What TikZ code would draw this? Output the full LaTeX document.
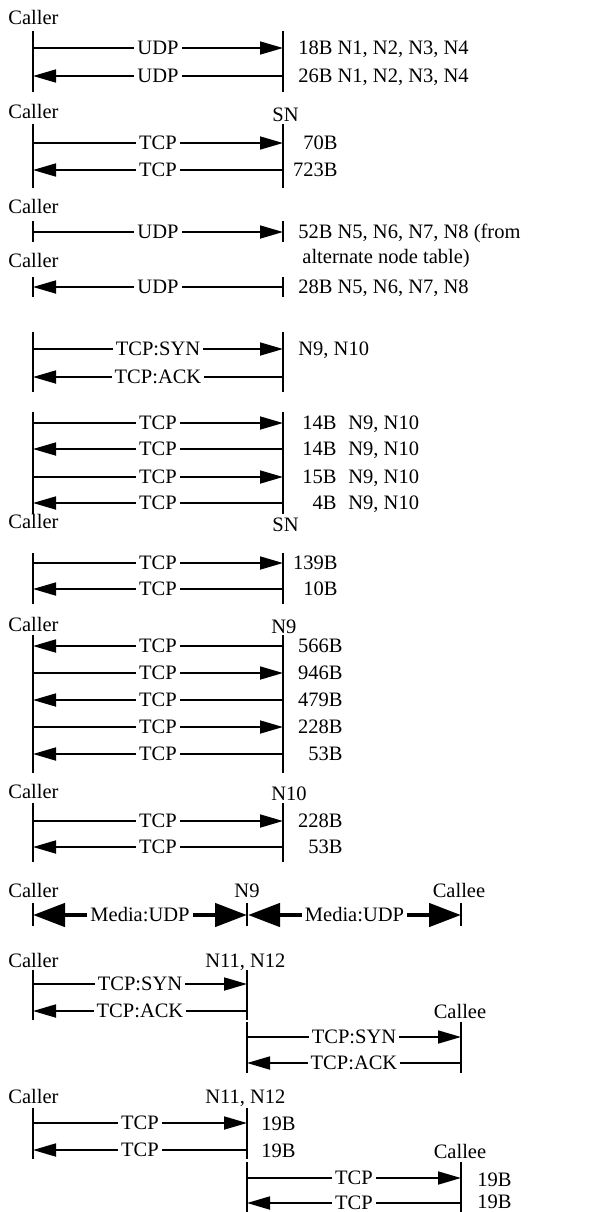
\documentclass[tikz,border=0pt]{standalone}
\usepackage{fontspec}
\setmainfont{Liberation Serif}
\usetikzlibrary{arrows.meta}
\begin{document}
\begin{tikzpicture}[x=0.5pt,y=-0.5pt,
  txt/.style={inner sep=0pt,font=\fontsize{10.25}{12}\selectfont},
  lifeline/.style={line width=0.9pt},
  msg/.style={line width=0.85pt,-{Triangle[length=11.5pt,width=6.5pt]}},
  media/.style={line width=2.3pt,{Triangle[length=16pt,width=11.5pt]}-{Triangle[length=16pt,width=11.5pt]}},
  lbl/.style={fill=white,inner xsep=1.5pt,inner ysep=0.5pt,font=\fontsize{10.25}{12}\selectfont}]
\useasboundingbox (0,0) rectangle (603,1212);
\newcommand\mylife[4]{\coordinate (#1t) at (#2,#3); \coordinate (#1b) at (#2,#4); \draw[lifeline] (#1t) -- (#1b);}
\newcommand\mymsg[5]{\coordinate (#1s) at (#3,#2); \coordinate (#1e) at (#4,#2); \draw[msg] (#1s) -- (#1e) node[lbl,midway] (#1l) {#5};}
\newcommand\mytxt[5]{\node[txt,anchor=#2] (#1) at (#3,#4) {#5};}
% ---- section 1
\mytxt{c1}{base west}{8}{24}{Caller}
\mylife{l1a}{33}{31}{92}
\mylife{l1b}{283}{31}{92}
\mymsg{m1a}{48}{33}{283}{UDP}
\mymsg{m1b}{76}{283}{33}{UDP}
\mytxt{t1a}{base west}{298}{54}{18B N1, N2, N3, N4}
\mytxt{t1b}{base west}{298}{82}{26B N1, N2, N3, N4}
% ---- section 2
\mytxt{c2}{base west}{8}{118}{Caller}
\mytxt{s2}{base west}{272}{121}{SN}
\mylife{l2a}{33}{124}{188}
\mylife{l2b}{283}{124}{188}
\mymsg{m2a}{143}{33}{283}{TCP}
\mymsg{m2b}{170}{283}{33}{TCP}
\mytxt{t2a}{base east}{338}{149}{70B}
\mytxt{t2b}{base east}{338}{176}{723B}
% ---- section 3
\mytxt{c3}{base west}{8}{213}{Caller}
\mylife{l3a}{33}{221}{242}
\mylife{l3b}{283}{221}{242}
\mymsg{m3a}{232}{33}{283}{UDP}
\mytxt{t3a}{base west}{298}{238}{52B N5, N6, N7, N8 (from}
\mytxt{t3b}{base west}{302}{263}{alternate node table)}
\mytxt{c3b}{base west}{8}{267}{Caller}
\mylife{l3c}{33}{277}{297}
\mylife{l3d}{283}{277}{297}
\mymsg{m3b}{287}{283}{33}{UDP}
\mytxt{t3c}{base west}{298}{293}{28B N5, N6, N7, N8}
% ---- section 4
\mylife{l4a}{33}{332}{392}
\mylife{l4b}{283}{332}{392}
\mymsg{m4a}{349}{33}{283}{TCP:SYN}
\mymsg{m4b}{377}{283}{33}{TCP:ACK}
\mytxt{t4a}{base west}{298}{355}{N9, N10}
% ---- section 5
\mylife{l5a}{33}{412}{514}
\mylife{l5b}{283}{412}{514}
\mymsg{m5a}{423}{33}{283}{TCP}
\mymsg{m5b}{449}{283}{33}{TCP}
\mymsg{m5c}{477}{33}{283}{TCP}
\mymsg{m5d}{503}{283}{33}{TCP}
\mytxt{t5a}{base east}{337}{429}{14B}
\mytxt{t5b}{base east}{337}{455}{14B}
\mytxt{t5c}{base east}{337}{483}{15B}
\mytxt{t5d}{base east}{337}{509}{4B}
\mytxt{u5a}{base west}{348}{429}{N9, N10}
\mytxt{u5b}{base west}{348}{455}{N9, N10}
\mytxt{u5c}{base west}{348}{483}{N9, N10}
\mytxt{u5d}{base west}{348}{509}{N9, N10}
% ---- section 6
\mytxt{c6}{base west}{8}{528}{Caller}
\mytxt{s6}{base west}{272}{531}{SN}
\mylife{l6a}{33}{553}{604}
\mylife{l6b}{283}{553}{604}
\mymsg{m6a}{563}{33}{283}{TCP}
\mymsg{m6b}{589}{283}{33}{TCP}
\mytxt{t6a}{base east}{338}{569}{139B}
\mytxt{t6b}{base east}{338}{595}{10B}
% ---- section 7
\mytxt{c7}{base west}{8}{631}{Caller}
\mytxt{s7}{base west}{271}{633}{N9}
\mylife{l7a}{33}{635}{773}
\mylife{l7b}{283}{635}{773}
\mymsg{m7a}{646}{283}{33}{TCP}
\mymsg{m7b}{673}{33}{283}{TCP}
\mymsg{m7c}{700}{283}{33}{TCP}
\mymsg{m7d}{727}{33}{283}{TCP}
\mymsg{m7e}{754}{283}{33}{TCP}
\mytxt{t7a}{base east}{343}{652}{566B}
\mytxt{t7b}{base east}{343}{679}{946B}
\mytxt{t7c}{base east}{343}{706}{479B}
\mytxt{t7d}{base east}{343}{733}{228B}
\mytxt{t7e}{base east}{343}{760}{53B}
% ---- section 8
\mytxt{c8}{base west}{8}{798}{Caller}
\mytxt{s8}{base west}{271}{800}{N10}
\mylife{l8a}{33}{803}{862}
\mylife{l8b}{283}{803}{862}
\mymsg{m8a}{821}{33}{283}{TCP}
\mymsg{m8b}{847}{283}{33}{TCP}
\mytxt{t8a}{base east}{343}{827}{228B}
\mytxt{t8b}{base east}{343}{853}{53B}
% ---- section 9
\mytxt{c9}{base west}{8}{897}{Caller}
\mytxt{s9}{base}{247}{897}{N9}
\mytxt{e9}{base}{459}{897}{Callee}
\mylife{l9a}{33}{903}{926}
\mylife{l9b}{247}{903}{926}
\mylife{l9c}{461}{903}{926}
\coordinate (m9a) at (33,915);
\coordinate (m9b) at (247,915);
\coordinate (m9c) at (248,915);
\coordinate (m9d) at (461,915);
\draw[media] (m9a) -- (m9b) node[lbl,midway] (m9l1) {Media:UDP};
\draw[media] (m9c) -- (m9d) node[lbl,midway] (m9l2) {Media:UDP};
% ---- section 10
\mytxt{c10}{base west}{8}{967}{Caller}
\mytxt{s10}{base west}{205}{967}{N11, N12}
\mylife{l10a}{33}{970}{1020}
\mylife{l10b}{247}{970}{1020}
\mymsg{m10a}{984}{33}{247}{TCP:SYN}
\mymsg{m10b}{1011}{247}{33}{TCP:ACK}
\mytxt{e10}{base}{460}{1018}{Callee}
\mylife{l10c}{247}{1022}{1073}
\mylife{l10d}{461}{1022}{1073}
\mymsg{m10c}{1037}{247}{461}{TCP:SYN}
\mymsg{m10d}{1063}{461}{247}{TCP:ACK}
% ---- section 11
\mytxt{c11}{base west}{8}{1103}{Caller}
\mytxt{s11}{base west}{205}{1103}{N11, N12}
\mylife{l11a}{33}{1108}{1159}
\mylife{l11b}{247}{1108}{1159}
\mymsg{m11a}{1123}{33}{247}{TCP}
\mymsg{m11b}{1150}{247}{33}{TCP}
\mytxt{t11a}{base west}{261}{1130}{19B}
\mytxt{t11b}{base west}{261}{1157}{19B}
\mytxt{e11}{base}{460}{1158}{Callee}
\mylife{l11c}{247}{1162}{1212}
\mylife{l11d}{461}{1162}{1212}
\mymsg{m11c}{1178}{247}{461}{TCP}
\mymsg{m11d}{1203}{461}{247}{TCP}
\mytxt{t11c}{base west}{477}{1186}{19B}
\mytxt{t11d}{base west}{477}{1208}{19B}
\end{tikzpicture}
\end{document}
